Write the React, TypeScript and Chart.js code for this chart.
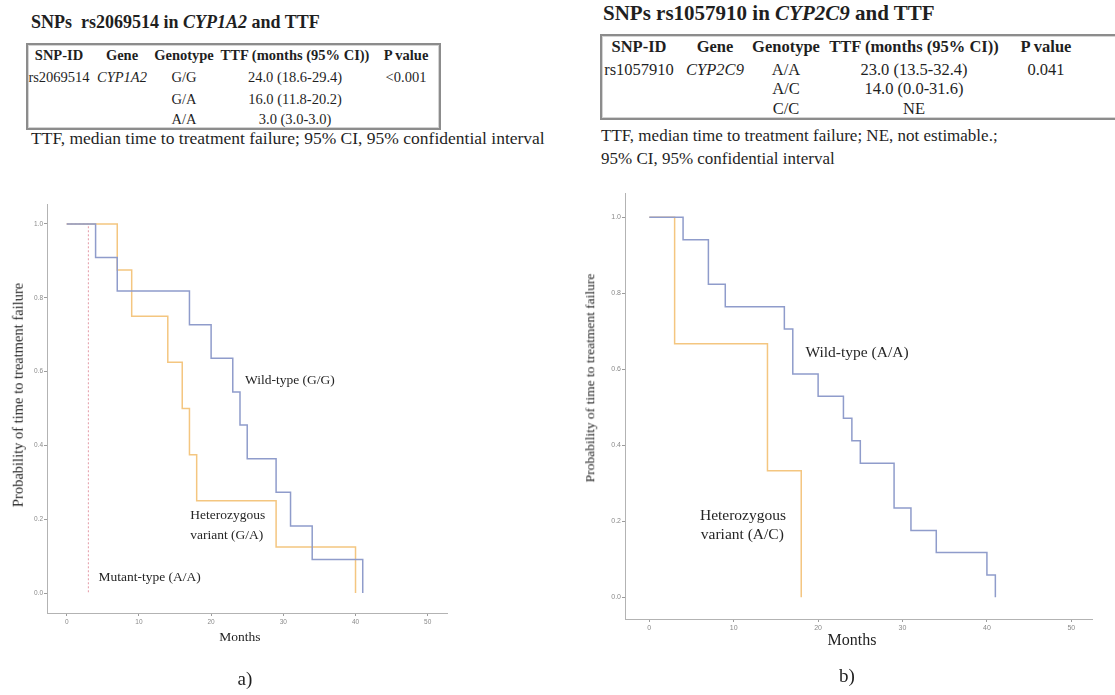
import React, { useEffect, useRef } from "react";
import { Chart, registerables } from "chart.js";

Chart.register(...registerables);

// ---------- data ----------
const X_TICKS = [0, 10, 20, 30, 40, 50];
const Y_TICKS = [0, 0.2, 0.4, 0.6, 0.8, 1.0];

// Panel a) rs2069514 / CYP1A2
const A_WT_TIME = [0, 4, 7, 17, 20, 23, 24, 25, 29, 31, 34, 41];
const A_WT_SURV = [1, 0.909, 0.818, 0.727, 0.636, 0.545, 0.455, 0.364, 0.273, 0.182, 0.091, 0];
const A_HET_TIME = [0, 7, 9, 14, 16, 17, 18, 29, 40];
const A_HET_SURV = [1, 0.875, 0.75, 0.625, 0.5, 0.375, 0.25, 0.125, 0];
const A_MUT_TIME = [0, 3];
const A_MUT_SURV = [1, 0];

// Panel b) rs1057910 / CYP2C9
const B_WT_TIME = [0, 4, 7, 9, 16, 17, 20, 23, 24, 25, 29, 31, 34, 40, 41];
const B_WT_SURV = [1, 0.941, 0.824, 0.765, 0.706, 0.588, 0.529, 0.471, 0.412, 0.353, 0.235, 0.176, 0.118, 0.059, 0];
const B_HET_TIME = [0, 3, 14, 18];
const B_HET_SURV = [1, 0.667, 0.333, 0];

const A_LABEL_TEXT = ["Wild-type (G/G)", "Heterozygous", "variant (G/A)", "Mutant-type (A/A)"];
const A_LABEL_X = [24.7, 17.1, 17.1, 4.4];
const A_LABEL_Y = [0.577, 0.209, 0.157, 0.041];

const B_LABEL_TEXT = ["Wild-type (A/A)", "Heterozygous", "variant (A/C)"];
const B_LABEL_X = [18.5, 6.0, 6.1];
const B_LABEL_Y = [0.644, 0.215, 0.165];

const TABLE_HEADERS = ["SNP-ID", "Gene", "Genotype", "TTF (months (95% CI))", "P value"];
const TABLE_A_ROWS = [
  ["rs2069514", "CYP1A2", "G/G", "24.0 (18.6-29.4)", "<0.001"],
  ["", "", "G/A", "16.0 (11.8-20.2)", ""],
  ["", "", "A/A", "3.0 (3.0-3.0)", ""],
];
const TABLE_B_ROWS = [
  ["rs1057910", "CYP2C9", "A/A", "23.0 (13.5-32.4)", "0.041"],
  ["", "", "A/C", "14.0 (0.0-31.6)", ""],
  ["", "", "C/C", "NE", ""],
];

// ---------- styling ----------
const BLUE = "#8f9ccb";
const ORANGE = "#f4c680";
const PINK = "#e49aa6";
const SERIF = '"Liberation Serif", "Times New Roman", serif';
const TEXT = "#1f1f1f";

const curveLabels = {
  id: "curveLabels",
  afterDatasetsDraw(chart: any, _args: any, opts: any) {
    const { ctx, scales } = chart;
    ctx.save();
    ctx.font = `${opts.size}px ${SERIF}`;
    ctx.fillStyle = "#262626";
    ctx.textBaseline = "middle";
    ctx.textAlign = "left";
    opts.text.forEach((t: string, i: number) => {
      ctx.fillText(t, scales.x.getPixelForValue(opts.xs[i]), scales.y.getPixelForValue(opts.ys[i]));
    });
    ctx.restore();
  },
};

function series(times: number[], surv: number[]) {
  return times.map((t, i) => ({ x: t, y: surv[i] }));
}

function makeConfig(p: any) {
  const tickFont = { size: p.tickSize, family: '"Liberation Sans", Arial, sans-serif' };
  return {
    type: "line",
    data: { datasets: p.datasets },
    plugins: [curveLabels],
    options: {
      animation: false,
      responsive: false,
      devicePixelRatio: 1,
      events: [],
      layout: { padding: p.padding },
      elements: { point: { radius: 0 }, line: { tension: 0 } },
      plugins: {
        legend: { display: false },
        tooltip: { enabled: false },
        curveLabels: { text: p.labelText, xs: p.labelX, ys: p.labelY, size: p.labelSize },
      },
      scales: {
        x: {
          type: "linear",
          min: p.xMin,
          max: p.xMax,
          afterBuildTicks: (s: any) => { s.ticks = X_TICKS.map((v) => ({ value: v })); },
          afterFit: (s: any) => { s.height = 20; },
          ticks: { font: tickFont, color: "#8a8a8a", padding: 2, maxRotation: 0, autoSkip: false, callback: (v: any) => String(v) },
          grid: { display: true, drawOnChartArea: false, drawTicks: true, tickLength: 3, color: "#9c9c9c" },
          border: { display: true, color: "#b3b3b3", width: 1 },
        },
        y: {
          type: "linear",
          min: p.yMin,
          max: p.yMax,
          afterBuildTicks: (s: any) => { s.ticks = Y_TICKS.map((v) => ({ value: v })); },
          afterFit: (s: any) => { s.width = p.yWidth; },
          ticks: { font: tickFont, color: "#8a8a8a", padding: 1, autoSkip: false, callback: (v: any) => Number(v).toFixed(1) },
          grid: { display: true, drawOnChartArea: false, drawTicks: true, tickLength: 3, color: "#9c9c9c" },
          border: { display: true, color: "#b3b3b3", width: 1 },
        },
      },
    },
  };
}

function KMChart(props: any) {
  const ref = useRef<HTMLCanvasElement | null>(null);
  useEffect(() => {
    if (!ref.current) return;
    const chart = new Chart(ref.current, makeConfig(props.cfg) as any);
    return () => chart.destroy();
  }, []);
  return (
    <canvas
      ref={ref}
      width={props.w}
      height={props.h}
      style={{ position: "absolute", left: props.left, top: props.top, width: props.w, height: props.h }}
    />
  );
}

const line = (color: string, dash?: number[]) => ({
  borderColor: color,
  borderWidth: 1.5,
  borderDash: dash || [],
  stepped: "before",
  fill: false,
  pointRadius: 0,
});

const CFG_A = {
  datasets: [
    { ...line(BLUE), data: series(A_WT_TIME, A_WT_SURV) },
    { ...line(ORANGE), data: series(A_HET_TIME, A_HET_SURV) },
    { ...line(PINK, [2, 2]), borderWidth: 1, data: series(A_MUT_TIME, A_MUT_SURV) },
  ],
  padding: { left: 0, top: 24, right: 23, bottom: 17 },
  yWidth: 47,
  xMin: -2.73,
  xMax: 52.67,
  yMin: -0.054,
  yMax: 1.054,
  tickSize: 6.5,
  labelText: A_LABEL_TEXT,
  labelX: A_LABEL_X,
  labelY: A_LABEL_Y,
  labelSize: 13.5,
};

const CFG_B = {
  datasets: [
    { ...line(BLUE), data: series(B_WT_TIME, B_WT_SURV) },
    { ...line(ORANGE), data: series(B_HET_TIME, B_HET_SURV) },
  ],
  padding: { left: 0, top: 23, right: 23, bottom: 11 },
  yWidth: 65,
  xMin: -2.88,
  xMax: 52.45,
  yMin: -0.057,
  yMax: 1.064,
  tickSize: 7,
  labelText: B_LABEL_TEXT,
  labelX: B_LABEL_X,
  labelY: B_LABEL_Y,
  labelSize: 15.5,
};

function Txt(props: any) {
  const { x, y, size, bold, italic, align, rotate, children, family } = props;
  const tx = align === "left" ? "0" : "-50%";
  return (
    <div
      style={{
        position: "absolute",
        left: x,
        top: y,
        transform: `translate(${tx}, -50%)${rotate ? " rotate(-90deg)" : ""}`,
        transformOrigin: "center center",
        fontFamily: family || SERIF,
        fontSize: size,
        fontWeight: bold ? 700 : 400,
        fontStyle: italic ? "italic" : "normal",
        whiteSpace: "pre",
        lineHeight: 1,
        color: TEXT,
      }}
    >
      {children}
    </div>
  );
}

function Table(props: any) {
  const { colX, rowY, rows, size, box } = props;
  const out: any[] = [];
  TABLE_HEADERS.forEach((h, c) => {
    out.push(<Txt key={"h" + c} x={colX[c]} y={rowY[0]} size={size} bold>{h}</Txt>);
  });
  rows.forEach((r: string[], ri: number) => {
    r.forEach((v, c) => {
      if (!v) return;
      out.push(
        <Txt key={`r${ri}c${c}`} x={colX[c]} y={rowY[ri + 1]} size={size} italic={c === 1}>{v}</Txt>
      );
    });
  });
  return (
    <>
      <div
        style={{
          position: "absolute",
          left: box[0],
          top: box[1],
          width: box[2],
          height: box[3],
          border: "2px solid #8c8c8c",
          boxShadow: "inset 0 0 0 1px #d4d4d4",
          boxSizing: "border-box",
        }}
      />
      {out}
    </>
  );
}

export default function App() {
  useEffect(() => {
    document.body.style.margin = "0";
  }, []);
  return (
    <div style={{ position: "fixed", left: 0, top: 0, width: 1115, height: 695, background: "#fff", overflow: "hidden" }}>
      {/* Panel a */}
      <Txt x={31} y={22} size={18} bold align="left">
        {"SNPs  rs2069514 in "}<i>CYP1A2</i>{" and TTF"}
      </Txt>
      <Table
        colX={[59, 122, 184, 295, 406]}
        rowY={[55, 77, 99, 119]}
        rows={TABLE_A_ROWS}
        size={14.5}
        box={[26, 43, 415, 87]}
      />
      <Txt x={31} y={139} size={17.5} align="left">
        TTF, median time to treatment failure; 95% CI, 95% confidential interval
      </Txt>
      <KMChart cfg={CFG_A} left={0} top={180} w={470} h={470} />
      <Txt x={18} y={395} size={14.5} rotate>Probability of time to treatment failure</Txt>
      <Txt x={240} y={637} size={13.5}>Months</Txt>
      <Txt x={245} y={678} size={19}>a)</Txt>

      {/* Panel b */}
      <Txt x={603} y={13} size={21} bold align="left">
        {"SNPs rs1057910 in "}<i>CYP2C9</i>{" and TTF"}
      </Txt>
      <Table
        colX={[639, 715, 786, 914, 1046]}
        rowY={[47, 70, 89, 109]}
        rows={TABLE_B_ROWS}
        size={16.5}
        box={[600, 34, 540, 86]}
      />
      <Txt x={601} y={135} size={17} align="left">
        TTF, median time to treatment failure; NE, not estimable.;
      </Txt>
      <Txt x={601} y={158} size={17} align="left">
        95% CI, 95% confidential interval
      </Txt>
      <KMChart cfg={CFG_B} left={560} top={170} w={555} h={480} />
      <Txt x={590} y={378} size={13.5} rotate>Probability of time to treatment failure</Txt>
      <Txt x={852} y={640} size={16}>Months</Txt>
      <Txt x={847} y={675} size={19}>b)</Txt>
    </div>
  );
}
